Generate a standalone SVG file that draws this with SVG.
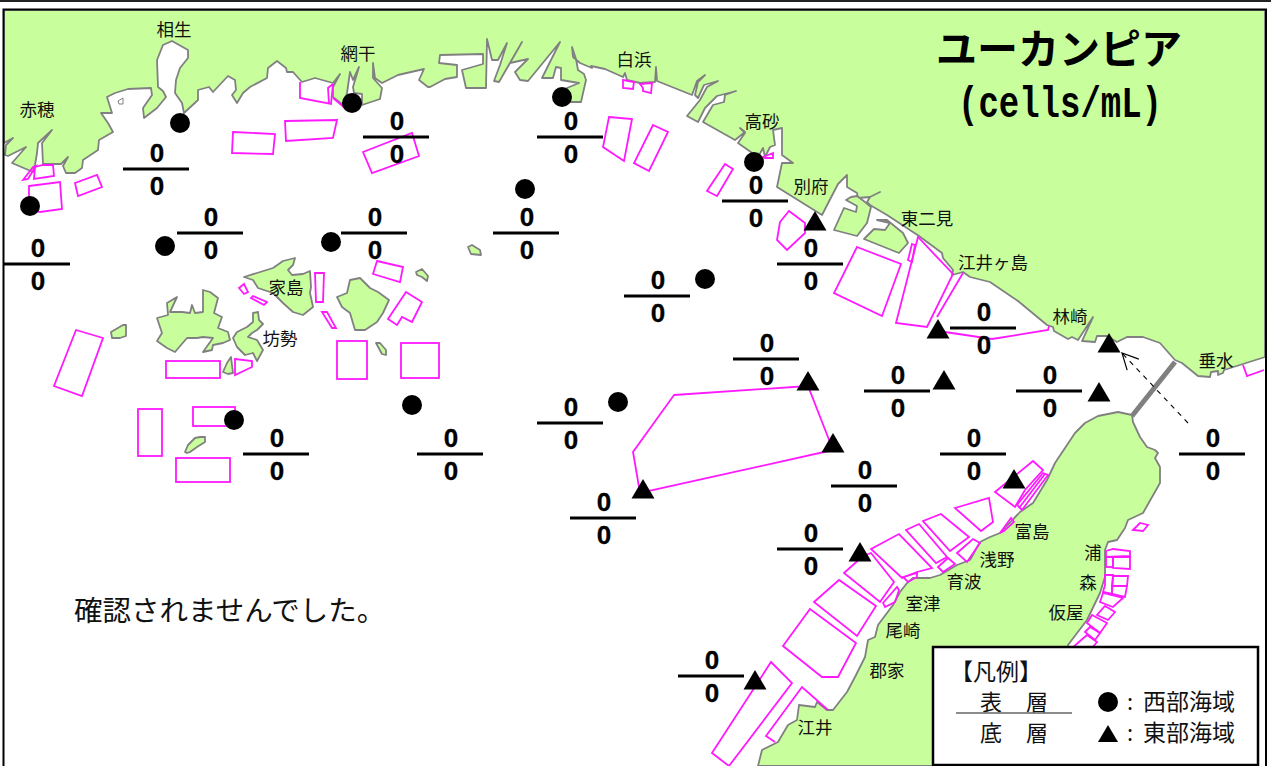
<svg xmlns="http://www.w3.org/2000/svg" width="1271" height="766" viewBox="0 0 1271 766">
<style>
.land{fill:#c8ff9c;stroke:#808080;stroke-width:1.800;stroke-linejoin:round}
.zone{fill:none;stroke:#ff19ff;stroke-width:1.800;stroke-linejoin:miter}
.lbl{font-family:"Noto Sans CJK JP","Noto Sans CJK SC",sans-serif;font-size:17.500px;fill:#111;text-anchor:middle}
.num{font-family:"Liberation Sans",Arial,sans-serif;font-size:26px;font-weight:700;fill:#000;text-anchor:middle;stroke:#000;stroke-width:.3}
.bar{stroke:#000;stroke-width:3}
.leg{font-family:"Noto Sans CJK JP","Noto Sans CJK SC",sans-serif;font-size:23px;fill:#111}
.leg2{font-family:"Noto Sans CJK JP","Noto Sans CJK SC",sans-serif;font-size:22px;fill:#111}
</style>
<defs>
<circle id="dot" r="10" fill="#000"/>
<polygon id="tri" points="0,0 11.500,19.500 -11.500,19.500" fill="#000"/>
<g id="frac"><line class="bar" x1="-33" x2="33" y1="0" y2="0"/><text class="num" x="1" y="-7">0</text><text class="num" x="1" y="26">0</text></g>
<marker id="open" viewBox="0 0 20 20" refX="18" refY="10" markerWidth="20" markerHeight="20" markerUnits="userSpaceOnUse" orient="auto"><path d="M2,2 L18,10 L2,18" fill="none" stroke="#000" stroke-width="1.200"/></marker>
</defs>
<rect width="1271" height="766" fill="#fff"/>
<g id="land">
<polygon class="land" points="4,143 13,138 6,145 5,155 8,156 26,147 12,163 33,172 35,165 37,153 38,143 52,130 42,143 43,164 61,164 68,157 63,166 66,173 75,173 82,168 83,160 98,150 99,140 113,132 108,123 101,113 112,113 107,97 115,93 128,89 151,88 152,95 143,108 144,118 157,108 166,97 163,91 158,87 157,60 163,45 172,41 188,50 188,58 180,68 176,80 175,93 182,103 184,113 198,100 198,90 209,87 213,92 228,76 235,80 236,90 232,95 237,103 243,93 250,87 267,78 268,68 277,61 286,68 287,72 293,72 302,82 315,78 333,83 340,74 333,87 333,97 343,105 347,93 350,72 353,80 359,67 353,87 354,93 362,94 362,105 380,99 382,88 373,78 373,63 375,78 382,83 398,75 424,69 419,80 428,87 430,87 445,79 457,77 457,65 439,63 440,55 483,54 483,64 462,70 466,88 486,88 487,39 492,60 498,60 507,43 500,65 494,81 499,82 522,42 510,63 528,59 515,72 520,80 528,81 560,42 542,78 553,78 556,67 561,68 561,80 579,83 567,88 570,102 581,102 586,80 584,74 578,70 576,59 572,47 573,57 580,63 592,68 591,66 605,69 623,77 625,73 627,80 640,83 655,82 656,67 657,81 692,95 697,81 705,75 698,82 695,95 698,98 704,85 718,81 707,87 700,100 687,116 698,122 705,108 717,96 736,91 725,95 724,102 713,105 703,122 735,140 745,132 740,128 745,133 738,143 758,157 763,148 765,157 770,147 775,145 773,130 782,128 782,155 793,163 782,163 777,187 822,215 838,184 847,175 847,187 857,193 858,198 870,197 880,192 870,197 867,202 870,205 887,215 919,236 942,253 943,258 953,270 952,275 963,272 970,277 990,282 1018,301 1047,325 1053,327 1054,331 1068,339 1072,337 1078,340 1093,317 1082,341 1095,342 1097,336 1107,336 1117,342 1127,337 1143,337 1160,343 1175,360 1182,363 1198,376 1210,377 1211,372 1218,371 1218,375 1223,373 1224,370 1265,357 1265,10 4,10"/>
<polygon class="land" points="846,200 857,206 856,212 844,208 834,230 857,236 867,223 871,207 865,202 857,196 851,197"/>
<polygon class="land" points="877,220 890,223 885,230 874,229 864,239 899,253 908,243 903,233 887,220"/>
<polygon class="land" points="758,766 762,750 778,742 788,725 797,720 799,705 815,707 817,702 827,710 833,710 847,692 855,677 865,657 868,640 875,637 878,625 887,613 893,605 900,592 907,583 913,578 930,578 940,575 957,565 970,560 980,542 990,537 1000,533 1020,512 1033,503 1047,480 1055,463 1057,460 1075,433 1085,423 1098,416 1118,412 1132,415 1133,422 1140,437 1147,447 1155,450 1158,453 1155,458 1160,467 1160,483 1143,513 1128,520 1125,528 1117,540 1108,542 1105,550 1105,577 1100,593 1087,620 1068,645 1068,766"/>
<polygon class="land" points="167,303 177,297 170,312 182,312 190,313 192,305 195,313 203,312 203,290 210,292 218,298 214,313 222,317 218,328 228,332 230,340 223,343 213,345 212,350 203,352 213,338 203,337 197,338 187,338 175,352 167,348 157,341 162,333 157,318 168,315"/>
<polygon class="land" points="237,332 247,327 253,322 253,313 258,312 259,320 263,324 257,330 252,333 248,337 257,340 263,350 257,361 253,353 245,355 237,347 233,338"/>
<polygon class="land" points="223,372 227,363 231,357 233,373 228,374"/>
<polygon class="land" points="244,277 257,273 273,268 283,261 295,258 293,265 288,270 292,275 303,274 310,271 311,287 310,293 313,307 303,315 293,312 283,303 273,293 258,288 253,280"/>
<polygon class="land" points="337,297 347,293 350,280 360,278 370,288 378,292 389,300 383,313 377,322 365,330 355,330 350,313 342,307"/>
<polygon class="land" points="111,332 123,325 126,325 126,336 120,338 112,338"/>
<polygon class="land" points="416,272 422,269 428,276 427,281 422,277 417,275"/>
<polygon class="land" points="376,343 380,343 386,350 386,355 382,354"/>
<polygon class="land" points="185,452 188,445 195,438 200,437 205,437 205,442 197,447 190,452 187,453"/>
<polygon class="land" points="468,247 472,245 480,250 481,255 471,254"/>
<polygon fill="#fff" stroke="#808080" stroke-width="1" points="118,101 123,98 123,104 119,104"/>
</g>
<line id="bridge" x1="1132" y1="416" x2="1175" y2="362" stroke="#808080" stroke-width="5"/>
<g id="zones">
<polygon class="zone" points="233,132 275,134 273,154 232,153"/>
<polygon class="zone" points="285,121 337,120 333,138 286,141"/>
<polygon class="zone" points="363,152 412,133 419,156 372,173"/>
<polygon class="zone" points="75,183 97,175 102,187 78,196"/>
<polygon class="zone" points="29,186 60,182 62,209 40,212 29,209"/>
<polygon class="zone" points="35,167 43,165 53,165 54,176 34,179"/>
<polygon class="zone" points="23,180 33,167 36,166 28,179"/>
<polyline class="zone" points="300,82 300,98 331,104 333,84"/>
<polyline class="zone" points="333,84 328,88 329,104"/>
<polyline class="zone" points="333,98 345,108"/>
<polygon class="zone" points="609,117 632,119 624,161 603,147"/>
<polygon class="zone" points="653,125 668,132 649,171 634,163"/>
<polygon class="zone" points="725,164 733,169 717,196 707,191"/>
<polygon class="zone" points="623,80 634,82 633,89 623,88"/>
<polygon class="zone" points="640,84 652,83 651,93 643,91 643,88"/>
<polygon class="zone" points="763,157 773,153 773,158 765,158"/>
<polygon class="zone" points="780,222 789,211 805,223 805,233 787,250 777,240"/>
<polygon class="zone" points="857,247 901,264 882,316 834,293"/>
<polygon class="zone" points="918,237 896,323 927,327 953,274"/>
<line class="zone" x1="963" y1="273" x2="937" y2="317"/>
<polyline class="zone" points="945,332 992,339 1048,330 1049,326"/>
<polygon class="zone" points="912,244 915,245 912,262 908,260"/>
<polyline class="zone" points="1243,365 1247,376 1264,370"/>
<polygon class="zone" points="76,330 103,338 82,396 54,386"/>
<polygon class="zone" points="239,288 244,284 248,292 244,294"/>
<polygon class="zone" points="251,298 253,296 267,302 264,305"/>
<polygon class="zone" points="315,273 324,273 323,302 316,302"/>
<polygon class="zone" points="322,312 327,312 336,328 332,328"/>
<polygon class="zone" points="377,261 403,267 400,282 373,274"/>
<polygon class="zone" points="406,292 422,302 412,322 402,317 397,325 388,319"/>
<rect class="zone" x="337" y="341" width="30" height="38"/>
<rect class="zone" x="401" y="343" width="38" height="35"/>
<rect class="zone" x="166" y="361" width="54" height="17"/>
<polygon class="zone" points="235,359 252,361 252,367 235,375"/>
<rect class="zone" x="138" y="409" width="24" height="47"/>
<rect class="zone" x="193" y="407" width="42" height="19"/>
<rect class="zone" x="176" y="458" width="54" height="24"/>
<polygon class="zone" points="674,395 808,386 833,450 640,493 633,452"/>
<polygon class="zone" points="1033,461 1043,470 1025,490 1015,507 995,492"/>
<polygon class="zone" points="1043,473 1048,475 1022,510 1017,505"/>
<line class="zone" x1="1045" y1="474" x2="1019" y2="508"/>
<polygon class="zone" points="955,508 989,498 993,522 981,531"/>
<polygon class="zone" points="923,521 941,514 969,537 950,551"/>
<polygon class="zone" points="906,530 919,524 947,557 936,563"/>
<polygon class="zone" points="871,549 899,534 932,568 917,572 902,578"/>
<polygon class="zone" points="957,553 973,539 980,543 967,562"/>
<polygon class="zone" points="938,567 948,558 955,564 943,572"/>
<polygon class="zone" points="903,577 917,573 917,577 908,582"/>
<polygon class="zone" points="1000,533 1011,518 1014,522 1004,531"/>
<polygon class="zone" points="844,573 863,556 871,553 894,582 880,602"/>
<polygon class="zone" points="883,603 897,587 899,590 895,602 885,607"/>
<polygon class="zone" points="814,602 839,580 876,606 857,636"/>
<polygon class="zone" points="783,646 810,609 856,643 838,677 822,677"/>
<polygon class="zone" points="712,753 771,662 792,683 729,766"/>
<polyline class="zone" points="775,742 766,736 802,687 828,710"/>
<polygon class="zone" points="1133,530 1140,523 1148,525 1143,531"/>
<polygon class="zone" points="1106,551 1113,549 1130,551 1130,556 1106,557"/>
<polygon class="zone" points="1113,557 1130,557 1130,569 1113,568"/>
<rect class="zone" x="1106" y="557" width="7" height="10"/>
<polygon class="zone" points="1113,576 1128,576 1127,586 1112,586"/>
<polygon class="zone" points="1112,586 1127,586 1125,597 1112,594"/>
<polygon class="zone" points="1105,575 1113,575 1112,594 1103,592 1105,585"/>
<polygon class="zone" points="1103,593 1123,598 1113,607 1100,602"/>
<polygon class="zone" points="1105,606 1115,612 1108,620 1097,615"/>
<polygon class="zone" points="1092,615 1107,623 1100,633 1087,623"/>
<polygon class="zone" points="1085,632 1090,627 1100,633 1095,640"/>
<polygon class="zone" points="1087,635 1097,642 1092,648 1072,648"/>
</g>
<g id="arrow"><line x1="1188" y1="423" x2="1122" y2="353" stroke="#000" stroke-width="1.100" stroke-dasharray="5 5" marker-end="url(#open)"/></g>
<g id="fractions">
<use href="#frac" x="37" y="264"/><use href="#frac" x="156" y="169"/><use href="#frac" x="210" y="233"/><use href="#frac" x="374" y="233"/><use href="#frac" x="396" y="137"/><use href="#frac" x="570" y="137"/><use href="#frac" x="526" y="233"/><use href="#frac" x="755" y="201"/><use href="#frac" x="810" y="264"/><use href="#frac" x="657" y="296"/><use href="#frac" x="983" y="328"/><use href="#frac" x="766" y="359"/><use href="#frac" x="897" y="391"/><use href="#frac" x="1049" y="391"/><use href="#frac" x="973" y="454"/><use href="#frac" x="1212" y="454"/><use href="#frac" x="864" y="486"/><use href="#frac" x="276" y="454"/><use href="#frac" x="450" y="454"/><use href="#frac" x="570" y="423"/><use href="#frac" x="603" y="518"/><use href="#frac" x="810" y="549"/><use href="#frac" x="711" y="676"/>
</g>
<g id="west-stations">
<use href="#dot" x="180" y="123"/><use href="#dot" x="352" y="103"/><use href="#dot" x="562" y="97"/><use href="#dot" x="754" y="162"/><use href="#dot" x="30" y="206"/><use href="#dot" x="165" y="246"/><use href="#dot" x="331" y="242"/><use href="#dot" x="525" y="189"/><use href="#dot" x="705" y="279"/><use href="#dot" x="412" y="405"/><use href="#dot" x="618" y="402"/><use href="#dot" x="234" y="420"/>
</g>
<g id="east-stations">
<use href="#tri" x="815" y="211"/><use href="#tri" x="938" y="319"/><use href="#tri" x="1109" y="333"/><use href="#tri" x="944" y="370"/><use href="#tri" x="1099" y="382"/><use href="#tri" x="808" y="371"/><use href="#tri" x="833" y="433"/><use href="#tri" x="643" y="479"/><use href="#tri" x="1014" y="469"/><use href="#tri" x="860" y="542"/><use href="#tri" x="755" y="670"/>
</g>
<g id="labels">
<text class="lbl" x="174" y="36">相生</text><text class="lbl" x="358" y="60">網干</text><text class="lbl" x="37" y="116">赤穂</text><text class="lbl" x="634" y="66">白浜</text><text class="lbl" x="762" y="128">高砂</text><text class="lbl" x="811" y="193">別府</text><text class="lbl" x="927" y="225">東二見</text><text class="lbl" x="993" y="269">江井ヶ島</text><text class="lbl" x="1070" y="323">林崎</text><text class="lbl" x="1216" y="367">垂水</text><text class="lbl" x="286" y="294">家島</text><text class="lbl" x="280" y="345">坊勢</text><text class="lbl" x="1032" y="538">富島</text><text class="lbl" x="997" y="566">浅野</text><text class="lbl" x="964" y="588">育波</text><text class="lbl" x="923" y="610">室津</text><text class="lbl" x="903" y="637">尾崎</text><text class="lbl" x="887" y="677">郡家</text><text class="lbl" x="815" y="734">江井</text><text class="lbl" x="1093" y="559">浦</text><text class="lbl" x="1088" y="589">森</text><text class="lbl" x="1066" y="619">仮屋</text>
</g>
<g id="title">
<text x="1059" y="64" font-family="'Noto Sans CJK JP',sans-serif" font-size="41" font-weight="700" text-anchor="middle" fill="#000">ユーカンピア</text>
<text x="958" y="117" font-family="'Liberation Mono',monospace" font-size="44" font-weight="700" textLength="204" lengthAdjust="spacingAndGlyphs" fill="#000">(cells/mL)</text>
</g>
<text id="note" x="74" y="621" font-family="'Noto Sans CJK JP',sans-serif" font-size="28.500" fill="#111">確認されませんでした。</text>
<g id="legend">
<rect x="933" y="647" width="325" height="118" fill="#fff" stroke="#000" stroke-width="2.500"/>
<text class="leg" x="950" y="680">【凡例】</text>
<text class="leg2" x="980" y="710">表</text><text class="leg2" x="1026" y="710">層</text>
<line x1="956" y1="713" x2="1072" y2="713" stroke="#666" stroke-width="1.500"/>
<text class="leg2" x="980" y="741">底</text><text class="leg2" x="1026" y="741">層</text>
<circle cx="1108" cy="702" r="10" fill="#000"/>
<polygon points="1108,725 1118,742 1098,742" fill="#000"/>
<text class="leg2" x="1127" y="710">:</text><text class="leg" x="1143" y="710">西部海域</text>
<text class="leg2" x="1127" y="741">:</text><text class="leg" x="1143" y="741">東部海域</text>
</g>
<g id="frame" fill="none" stroke="#000">
<rect x="0" y="0" width="1271" height="2" fill="#222" stroke="none"/>
<polyline points="3.500,766 3.500,9.500 1266,9.500 1266,766" stroke-width="2"/>
</g>
</svg>
